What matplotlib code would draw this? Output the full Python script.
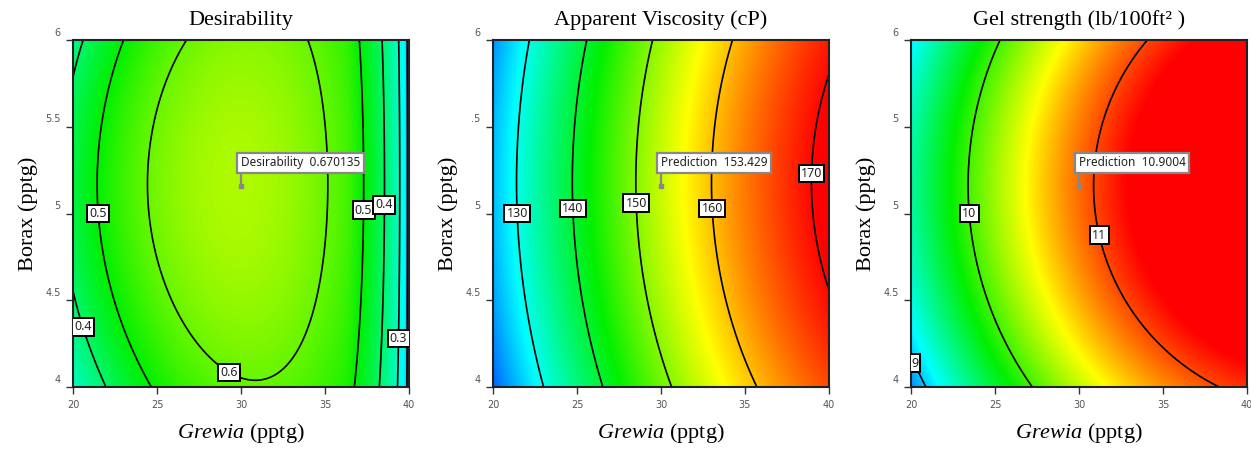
import numpy as np
import matplotlib
matplotlib.use('Agg')
import matplotlib.pyplot as plt
from matplotlib.colors import LinearSegmentedColormap
from matplotlib.transforms import ScaledTranslation

plt.rcParams['mathtext.fontset'] = 'custom'
plt.rcParams['mathtext.rm'] = 'Liberation Serif'
plt.rcParams['mathtext.it'] = 'Liberation Serif:italic'

# ---------------- data ----------------
grewia_lim = [20, 40]
borax_lim = [4, 6]
x_ticks = [20, 25, 30, 35, 40]
y_ticks = [4, 4.5, 5, 5.5, 6]
y_ticklabels = [['4', '4.5', '5', '5.5', '6'],
                ['4', '4.5', '5', '.5', '6'],
                ['4', '4.5', '5', '5', '6']]
titles = ['Desirability', 'Apparent Viscosity (cP)', 'Gel strength (lb/100ft² )']
x_label = r'$\it{Grewia}$ (pptg)'
y_label = 'Borax (pptg)'

# Desirability surface (coded A=(Grewia-30)/10, B=Borax-5)
des_peak = 0.67
des_center = [-0.02, 0.17]
des_curv_a = 0.243
des_curv_b = [0.056, 0.04]
des_edge = [0.631, 1.0, 0.206]          # start, zero point, exponent
des_levels = [0.1, 0.2, 0.3, 0.4, 0.5, 0.6]
des_label_pos = [(21.4, 5.0), (20.7, 4.35), (29.5, 4.12),
                 (37.3, 5.02), (38.7, 5.05), (39.6, 4.28)]
des_range = [0.0, 1.0]

# Apparent viscosity: b0 + bA*A + bAA*A^2 + bBB*(B-Bc)^2
visc_coef = [153.56, 22.97, -5.15, -3.58, 0.181]
visc_levels = [130, 140, 150, 160, 170]
visc_label_pos = [(21.4, 5.0), (24.7, 5.03), (28.5, 5.06), (33.1, 5.03), (39.0, 5.23)]
visc_range = [115, 170.5]

# Gel strength
gel_coef = [10.906, 1.1155, -0.389, -0.42, 0.161]
gel_levels = [9, 10, 11]
gel_label_pos = [(20.5, 4.15), (23.5, 5.0), (31.4, 4.88)]
gel_range = [8.45, 11.2]

flag_point = (30, 5.16)
flag_texts = ['Desirability  0.670135', 'Prediction  153.429', 'Prediction  10.9004']

# ---------------- surfaces ----------------
g = np.linspace(grewia_lim[0], grewia_lim[1], 401)
b = np.linspace(borax_lim[0], borax_lim[1], 401)
G, Bx = np.meshgrid(g, b)
A = (G - 30) / 10
B = Bx - 5


def quad(c):
    return c[0] + c[1] * A + c[2] * A ** 2 + c[3] * (B - c[4]) ** 2


q = (des_peak - des_curv_a * (A - des_center[0]) ** 2
     - (des_curv_b[0] - des_curv_b[1] * A) * (B - des_center[1]) ** 2)
t = np.clip((des_edge[1] - A) / (des_edge[1] - des_edge[0]), 0, 1)
w = np.where(A < des_edge[0], 1.0, t ** des_edge[2])
Z_des = q * w
Z_visc = quad(visc_coef)
Z_gel = quad(gel_coef)

cmap = LinearSegmentedColormap.from_list(
    'de', [(0.0, '#0000ff'), (0.25, '#00ffff'), (0.5, '#00f000'),
           (0.75, '#ffff00'), (1.0, '#ff0000')])

panels = [
    (Z_des, des_levels, des_label_pos, des_range),
    (Z_visc, visc_levels, visc_label_pos, visc_range),
    (Z_gel, gel_levels, gel_label_pos, gel_range),
]

W, H = 1251, 450
fig = plt.figure(figsize=(W / 100, H / 100), dpi=100)
lefts = [73, 493, 911]
width_px = 336
top_px, bot_px = 40, 387

for i, (Z, levels, lpos, rng) in enumerate(panels):
    ax = fig.add_axes([lefts[i] / W, 1 - bot_px / H, width_px / W, (bot_px - top_px) / H])
    ax.imshow(Z, origin='lower', extent=[*grewia_lim, *borax_lim], aspect='auto',
              cmap=cmap, vmin=rng[0], vmax=rng[1], interpolation='bilinear')
    cs = ax.contour(G, Bx, Z, levels=levels, colors='black', linewidths=1.2)
    texts = ax.clabel(cs, inline=False, manual=lpos, fontsize=9, fmt='%g')
    for tx in texts:
        tx.set_rotation(0)
        tx.set_family('Noto Sans')
        tx.set_color('#222222')
        tx.set_bbox(dict(boxstyle='square,pad=0.18', fc='white', ec='black', lw=1.4))
        tx.set_clip_on(True)
    ax.set_xlim(grewia_lim)
    ax.set_ylim(borax_lim)

    # flag
    ax.plot([flag_point[0]], [flag_point[1]], marker='s', ms=2.5, color='#888888', zorder=5)
    ax.annotate(flag_texts[i], xy=flag_point, xytext=(0, 12), textcoords='offset points',
                ha='left', va='bottom', fontsize=8.5, family='Noto Sans', color='#222222',
                bbox=dict(boxstyle='square,pad=0.3', fc='white', ec='#888888', lw=1.6),
                arrowprops=dict(arrowstyle='-', color='#888888', lw=1.6,
                                relpos=(0, 0), shrinkA=0, shrinkB=0), zorder=6)

    ax.set_xticks(x_ticks)
    ax.set_yticks(y_ticks)
    ax.set_xticklabels([str(v) for v in x_ticks])
    ax.set_yticklabels(y_ticklabels[i])
    ax.tick_params(direction='out', length=5, width=1, colors='#333333',
                   labelsize=7, labelcolor='#555555', pad=4)
    for lab in ax.get_yticklabels():
        lab.set_transform(lab.get_transform() + ScaledTranslation(0, 6 / 72, fig.dpi_scale_trans))
    for sp in ax.spines.values():
        sp.set_linewidth(1.5)
        sp.set_color('#222222')

    ax.set_title(titles[i], family='Liberation Serif', fontsize=16, pad=11)
    ax.set_xlabel(x_label, fontsize=16, family='Liberation Serif', labelpad=8)
    ax.set_ylabel(y_label, fontsize=16, family='Liberation Serif', labelpad=5)

fig.savefig('out.png', dpi=100)
